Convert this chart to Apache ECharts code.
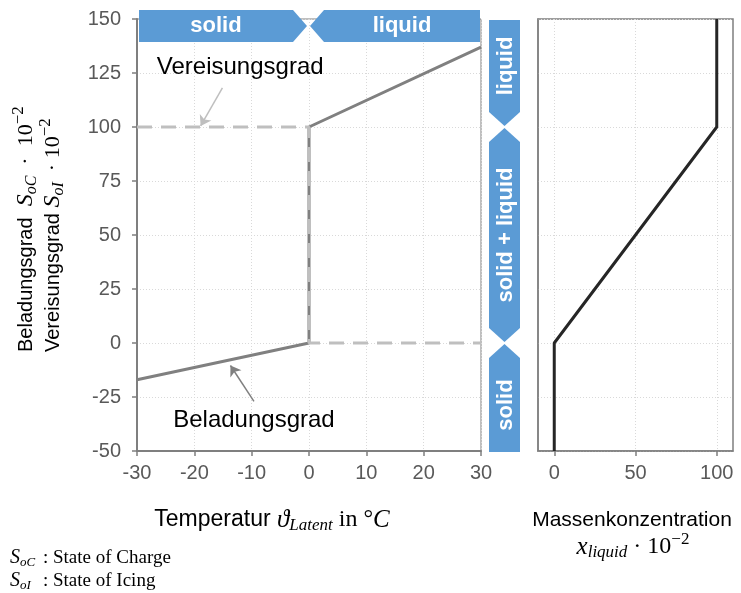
<!DOCTYPE html>
<html><head><meta charset="utf-8">
<script src="https://cdn.jsdelivr.net/npm/echarts@6/dist/echarts.min.js"></script>
<style>html,body{margin:0;padding:0;background:#fff}#c{width:741px;height:593px}</style>
</head><body><div id="c"></div>
<script>
// ---- data ----
const beladungX = [-30, 0, 0, 30];
const beladungY = [-17, 0, 100, 137];
const vereisX = [-30, 0, 0, 30];
const vereisY = [100, 100, 0, 0];
const concX = [0, 0, 100, 100];
const concY = [-50, 0, 100, 150];
const concTicks = [0, 50, 100];
const tempPhases = [{name: 'solid', from: -30, to: 0}, {name: 'liquid', from: 0, to: 30}];
const socPhases = [{name: 'liquid', from: 100, to: 150}, {name: 'solid + liquid', from: 0, to: 100}, {name: 'solid', from: -50, to: 0}];
const vereisArrow = [[-15.1, 118.1], [-18.9, 100.5]];
const beladArrow = [[-9.6, -27], [-13.7, -10.4]];
const vereisLabelPos = [-12, 127.5];
const beladLabelPos = [-9.6, -36];

const zip = (a, b) => a.map((v, i) => [v, b[i]]);
const SANS = '"Liberation Sans", Arial, sans-serif';
const SERIF = '"Liberation Serif", "DejaVu Serif", serif';
const GRAY = '#7f7f7f';
const LBL = '#595959';
const split = {show: true, lineStyle: {color: '#d9d9d9', type: [1, 2], width: 1}};

const chart = echarts.init(document.getElementById('c'), null, {renderer: 'canvas'});
const option = {
  animation: false,
  backgroundColor: '#fff',
  grid: [
    {left: 137, top: 19, width: 344, height: 432, show: true, borderColor: GRAY, borderWidth: 1, containLabel: false},
    {left: 538, top: 19, width: 195, height: 432, show: true, borderColor: GRAY, borderWidth: 1.5, containLabel: false}
  ],
  xAxis: [
    {gridIndex: 0, type: 'value', min: -30, max: 30, interval: 10,
     axisLine: {show: true, onZero: false, lineStyle: {color: GRAY, width: 2}},
     axisTick: {show: true, length: 5, lineStyle: {color: GRAY, width: 1.5}},
     axisLabel: {color: LBL, fontSize: 20, fontFamily: SANS, margin: 12},
     splitLine: split},
    {gridIndex: 1, type: 'value', min: -10, max: 110,
     axisLine: {show: true, onZero: false, lineStyle: {color: GRAY, width: 1.5}},
     axisTick: {show: true, length: 5, customValues: concTicks, lineStyle: {color: GRAY, width: 1.5}},
     axisLabel: {color: LBL, fontSize: 20, fontFamily: SANS, margin: 12, customValues: concTicks},
     splitLine: split}
  ],
  yAxis: [
    {gridIndex: 0, type: 'value', min: -50, max: 150, interval: 25,
     axisLine: {show: true, onZero: false, lineStyle: {color: GRAY, width: 2}},
     axisTick: {show: true, length: 5, lineStyle: {color: GRAY, width: 1.5}},
     axisLabel: {color: LBL, fontSize: 20, fontFamily: SANS, margin: 16},
     splitLine: split},
    {gridIndex: 1, type: 'value', min: -50, max: 150, interval: 25,
     axisLine: {show: true, onZero: false, lineStyle: {color: GRAY, width: 1.5}},
     axisTick: {show: false}, axisLabel: {show: false},
     splitLine: split}
  ],
  series: [
    {name: 'Beladungsgrad', type: 'line', xAxisIndex: 0, yAxisIndex: 0, z: 3,
     data: zip(beladungX, beladungY), symbol: 'none',
     lineStyle: {color: '#808080', width: 3},
     markLine: {silent: true, symbol: ['none', 'arrow'], symbolSize: 10,
       lineStyle: {color: '#808080', width: 1.5, type: 'solid'}, label: {show: false},
       data: [[{coord: beladArrow[0]}, {coord: beladArrow[1]}]]},
     markPoint: {silent: true, symbol: 'circle', symbolSize: 1, itemStyle: {color: 'rgba(0,0,0,0)'},
       label: {show: true, position: 'inside', formatter: 'Beladungsgrad', color: '#000', fontSize: 24, fontFamily: SANS},
       data: [{coord: beladLabelPos}]}},
    {name: 'Vereisungsgrad', type: 'line', xAxisIndex: 0, yAxisIndex: 0, z: 4,
     data: zip(vereisX, vereisY), symbol: 'none',
     lineStyle: {color: '#bfbfbf', width: 3, type: [15, 9]},
     markLine: {silent: true, symbol: ['none', 'arrow'], symbolSize: 10,
       lineStyle: {color: '#bfbfbf', width: 1.5, type: 'solid'}, label: {show: false},
       data: [[{coord: vereisArrow[0]}, {coord: vereisArrow[1]}]]},
     markPoint: {silent: true, symbol: 'circle', symbolSize: 1, itemStyle: {color: 'rgba(0,0,0,0)'},
       label: {show: true, position: 'inside', formatter: 'Vereisungsgrad', color: '#000', fontSize: 24, fontFamily: SANS},
       data: [{coord: vereisLabelPos}]}},
    {name: 'Massenkonzentration', type: 'line', xAxisIndex: 1, yAxisIndex: 1, z: 3,
     data: zip(concX, concY), symbol: 'none',
     lineStyle: {color: '#262626', width: 3}}
  ]
};
chart.setOption(option);

// ---- decorations computed from the axes ----
const BLUE = '#5b9bd5';
const px = (x, y) => chart.convertToPixel({gridIndex: 0}, [x, y]);
const gfx = [];
const bannerFont = {fill: '#fff', fontSize: 22, fontWeight: 'bold', fontFamily: SANS,
  align: 'center', verticalAlign: 'middle', textAlign: 'center', textVerticalAlign: 'middle'};
// top banner (temperature phases)
{
  const yT = 10, yB = 42, yM = 26, d = 14;
  const l0 = px(tempPhases[0].from, 0)[0] + 2, t0 = px(tempPhases[0].to, 0)[0] - 2;
  gfx.push({type: 'polygon', shape: {points: [[l0, yT], [t0 - d, yT], [t0, yM], [t0 - d, yB], [l0, yB]]}, style: {fill: BLUE}, z: 50});
  gfx.push({type: 'text', x: (l0 + t0 - d) / 2, y: yM, style: Object.assign({text: tempPhases[0].name}, bannerFont), z: 51});
  const t1 = px(tempPhases[1].from, 0)[0] + 1, r1 = px(tempPhases[1].to, 0)[0] - 1;
  gfx.push({type: 'polygon', shape: {points: [[t1, yM], [t1 + d, yT], [r1, yT], [r1, yB], [t1 + d, yB]]}, style: {fill: BLUE}, z: 50});
  gfx.push({type: 'text', x: (t1 + d + r1) / 2, y: yM, style: Object.assign({text: tempPhases[1].name}, bannerFont), z: 51});
}
// right vertical banner (state phases)
{
  const xL = 489, xR = 520, xM = 504.5, d = 14;
  socPhases.forEach((p) => {
    let top = px(0, p.to)[1], bot = px(0, p.from)[1];
    const hasTopTip = p.to < 150, hasBotTip = p.from > -50;
    top = top + 1;
    bot = hasBotTip ? bot - 1 : bot + 1;
    const pts = [];
    if (hasTopTip) { pts.push([xM, top], [xR, top + d]); } else { pts.push([xL, top], [xR, top]); }
    if (hasBotTip) { pts.push([xR, bot - d], [xM, bot], [xL, bot - d]); } else { pts.push([xR, bot], [xL, bot]); }
    if (hasTopTip) { pts.push([xL, top + d]); }
    gfx.push({type: 'polygon', shape: {points: pts}, style: {fill: BLUE}, z: 50});
    const ct = hasTopTip ? top + d : top, cb = hasBotTip ? bot - d : bot;
    gfx.push({type: 'text', x: xM + 1, y: (ct + cb) / 2, rotation: Math.PI / 2, style: Object.assign({text: p.name}, bannerFont), z: 51});
  });
}
// titles
const rich = {
  a: {fontFamily: SANS, fontSize: 20, fill: '#000'},
  m: {fontFamily: SERIF, fontStyle: 'italic', fontSize: 24, fill: '#000'},
  s: {fontFamily: SERIF, fontStyle: 'italic', fontSize: 16, fill: '#000', padding: [12, 0, 0, 0]},
  r: {fontFamily: SERIF, fontSize: 22, fill: '#000'},
  p: {fontFamily: SERIF, fontSize: 17, fill: '#000', padding: [0, 0, 14, 0]},
  t: {fontFamily: SANS, fontSize: 23, fill: '#000'},
  mt: {fontFamily: SERIF, fontStyle: 'italic', fontSize: 25, fill: '#000'},
  st: {fontFamily: SERIF, fontStyle: 'italic', fontSize: 17, fill: '#000', padding: [12, 0, 0, 0]},
  rt: {fontFamily: SERIF, fontSize: 24, fill: '#000'},
  n: {fontFamily: SERIF, fontSize: 19, fill: '#000'},
  nm: {fontFamily: SERIF, fontStyle: 'italic', fontSize: 20, fill: '#000'},
  ns: {fontFamily: SERIF, fontStyle: 'italic', fontSize: 13, fill: '#000', padding: [9, 0, 0, 0]},
  k: {fontFamily: SANS, fontSize: 21, fill: '#000'}
};
const txt = (x, y, text, align, rot) => ({type: 'text', x, y, rotation: rot || 0,
  style: {text, rich, align, textAlign: align, verticalAlign: 'middle', textVerticalAlign: 'middle'}, z: 60});
gfx.push(txt(26, 352, '{a|Beladungsgrad  }{m|S}{s|oC}{r|  ·  10}{p|−2}', 'left', Math.PI / 2));
gfx.push(txt(53, 352, '{a|Vereisungsgrad }{m|S}{s|oI}{r|  · 10}{p|−2}', 'left', Math.PI / 2));
gfx.push(txt(272, 520, '{t|Temperatur }{mt|ϑ}{st|Latent}{rt| in °}{mt|C}', 'center'));
gfx.push(txt(632, 520, '{k|Massenkonzentration}', 'center'));
gfx.push(txt(633, 547, '{mt|x}{st|liquid}{rt| · 10}{p|−2}', 'center'));
gfx.push(txt(10, 558, '{nm|S}{ns|oC}', 'left'));
gfx.push(txt(43, 558, '{n|: State of Charge}', 'left'));
gfx.push(txt(10, 581, '{nm|S}{ns|oI}', 'left'));
gfx.push(txt(43, 581, '{n|: State of Icing}', 'left'));
chart.setOption({graphic: {elements: gfx}});
</script>
</body></html>
